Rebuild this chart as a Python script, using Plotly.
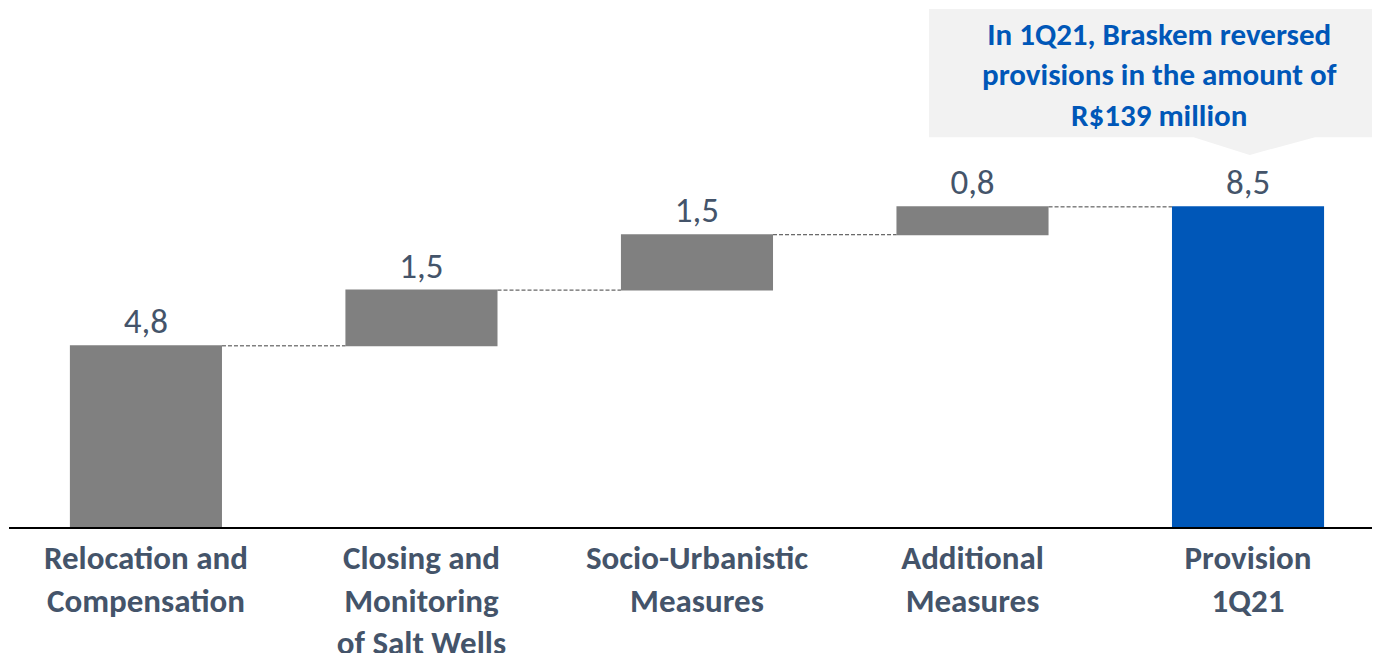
import plotly.graph_objects as go

# Provision build-up (R$ billion)
categories = [
    "Relocation and<br>Compensation",
    "Closing and<br>Monitoring<br>of Salt Wells",
    "Socio-Urbanistic<br>Measures",
    "Additional<br>Measures",
    "Provision<br>1Q21",
]
# unrounded step sizes; labels show the rounded figures
values = [4.81, 1.48, 1.47, 0.74, 8.5]
measures = ["relative", "relative", "relative", "relative", "total"]
labels = ["4,8", "1,5", "1,5", "0,8", "8,5"]

callout = "In 1Q21, Braskem reversed<br>provisions in the amount of<br>R$139 million"

GREY = "#808080"
BLUE = "#0057B8"
SLATE = "#44546A"
FONT = "Carlito, Calibri, Lato, sans-serif"

fig = go.Figure()

fig.add_trace(go.Waterfall(
    x=categories,
    y=values,
    measure=measures,
    text=labels,
    textposition="outside",
    textfont=dict(family=FONT, size=35, color=SLATE),
    width=0.552,
    increasing=dict(marker=dict(color=GREY)),
    decreasing=dict(marker=dict(color=GREY)),
    totals=dict(marker=dict(color=BLUE)),
    connector=dict(mode="between", line=dict(color="#404040", width=1, dash="4px,2px")),
    cliponaxis=False,
    hoverinfo="skip",
))

# callout box with pointer
fig.add_shape(
    type="path",
    xref="paper", yref="paper",
    path="M 0.671 0.998 L 1.0 0.998 L 1.0 0.751 L 0.9526 0.751 L 0.905 0.717 "
         "L 0.864 0.751 L 0.671 0.751 Z",
    fillcolor="#F2F2F2",
    line=dict(width=0),
    layer="below",
)
fig.add_annotation(
    xref="paper", yref="paper",
    x=0.839, y=0.871,
    xanchor="center", yanchor="middle",
    text=f"<b>{callout}</b>",
    showarrow=False,
    font=dict(family=FONT, size=31, color=BLUE),
    align="center",
)

fig.update_layout(
    width=1372,
    height=645,
    margin=dict(l=1, r=0, t=0, b=126, autoexpand=False),
    plot_bgcolor="white",
    paper_bgcolor="white",
    showlegend=False,
    font=dict(family=FONT, color=SLATE),
)
fig.update_xaxes(
    range=[-0.497, 4.479],
    automargin=False,
    showline=True,
    linecolor="black",
    linewidth=2,
    showgrid=False,
    ticks="",
    ticklabelstandoff=0,
    tickfont=dict(family=FONT, size=33, color=SLATE, weight="bold"),
)
fig.update_yaxes(range=[0, 13.78], visible=False, automargin=False)

fig.write_html("out.html")
